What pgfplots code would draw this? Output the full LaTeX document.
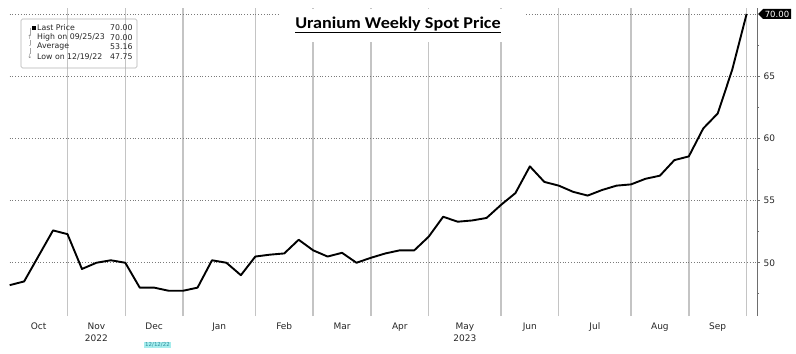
\documentclass[border=0pt]{standalone}
\usepackage{pgfplots}
\usepackage{pgfplotstable}
\pgfplotsset{compat=1.18}
\usepackage{fontspec}
\setmainfont{DejaVu Sans}
\newfontfamily\titlefont{Carlito}
\definecolor{vgrid}{HTML}{C4C4C4}
\definecolor{hgrid}{HTML}{7A7A7A}
\definecolor{axgray}{HTML}{6E6E6E}
\definecolor{datebg}{HTML}{A6EDED}
\definecolor{datefg}{HTML}{2C8C9C}

\pgfplotstableread{
i v
0 48.2
1 48.5
2 50.55
3 52.6
4 52.3
5 49.5
6 50.0
7 50.2
8 50.0
9 48.0
10 48.0
11 47.75
12 47.75
13 48.0
14 50.2
15 50.0
16 49.0
17 50.5
18 50.65
19 50.75
20 51.85
21 51.0
22 50.5
23 50.8
24 50.0
25 50.4
26 50.75
27 51.0
28 51.0
29 52.1
30 53.7
31 53.3
32 53.4
33 53.6
34 54.65
35 55.6
36 57.75
37 56.5
38 56.2
39 55.7
40 55.4
41 55.85
42 56.2
43 56.3
44 56.75
45 57.0
46 58.25
47 58.55
48 60.8
49 62.0
50 65.5
51 70.0
}\spot

\begin{document}
\begin{tikzpicture}[x=1bp,y=1bp]
\path[use as bounding box] (0,-37) rectangle (796,316);
\begin{axis}[
 at={(0,0)}, anchor=south west, scale only axis,
 width=757bp, height=308bp,
 xmin=-0.671, xmax=51.72, ymin=45.72, ymax=70.48,
 axis x line*=bottom, axis y line*=right,
 x axis line style={draw=none},
 y axis line style={draw=axgray, line width=0.9bp, -},
 xtick={2,6,10,14.5,19,23,27,31.5,36,40.5,45,49},
 xticklabels={Oct,Nov\\2022,Dec,Jan,Feb,Mar,Apr,May\\2023,Jun,Jul,Aug,Sep},
 xticklabel style={align=center, font=\fontsize{9bp}{12bp}\selectfont, text=black!85},
 x tick style={draw=none},
 major grid style={draw=vgrid, line width=1.4bp},
 extra x ticks={4,8,12,17,21,25,29,34,38,43,47,51},
 extra x tick labels={},
 extra x tick style={grid=major, tick style={draw=none}},
 ytick={50,55,60,65},
 yticklabels={50,55,60,65},
 minor ytick={47.5,52.5,57.5,62.5,67.5},
 tick align=outside,
 major tick length=3bp, minor tick length=2bp,
 y tick style={draw=axgray, line width=0.8bp},
 yticklabel style={font=\fontsize{9bp}{10bp}\selectfont, text=black!85},
 clip=false,
]
\pgfplotsinvokeforeach{50,55,60,65,70}{
  \draw[hgrid, dotted, line width=0.8bp] (axis cs:0,#1) -- (axis cs:51.72,#1);
}
\addplot[black, line width=1.9bp, line join=round] table[x=i,y=v]{\spot};
\end{axis}
% last price tag
\fill[black] (758,302) -- (763,307) -- (791,307) -- (791,297) -- (763,297) -- cycle;
\node[text=white, font=\fontsize{8.5bp}{9bp}\selectfont, inner sep=0] at (777,302) {70.00};
% title
\fill[white] (280,274) rectangle (525,307);
\node[font=\titlefont\bfseries\fontsize{16.5bp}{18bp}\selectfont, xscale=1.1, inner sep=0] at (398,291) {\underline{Uranium Weekly Spot Price}};
% legend
\draw[gray!60, line width=0.6bp, rounded corners=1.5bp] (21,297) rectangle (137,248);
\draw[gray!70, line width=0.5bp] (30,288.3) -- (30,259.3);
\fill[black] (32,286.3) rectangle (36,290.3);
\begin{scope}[font=\fontsize{7.8bp}{8bp}\selectfont, text=black!85]
\node[anchor=west, inner sep=0] at (37,288.3) {Last Price};
\node[anchor=west, inner sep=0] at (37,278.7) {High on 09/25/23};
\node[anchor=west, inner sep=0] at (37,269.3) {Average};
\node[anchor=west, inner sep=0] at (37,259.3) {Low on 12/19/22};
\node[anchor=west, inner sep=0] at (110,288.3) {70.00};
\node[anchor=west, inner sep=0] at (110,278.7) {70.00};
\node[anchor=west, inner sep=0] at (110,269.3) {53.16};
\node[anchor=west, inner sep=0] at (110,259.3) {47.75};
\end{scope}
\begin{scope}[font=\fontsize{6bp}{6bp}\selectfont, text=gray]
\node[fill=white, inner sep=0.3bp] at (30,278.7) {↑};
\node[fill=white, inner sep=0.3bp] at (30,269.3) {-};
\node[fill=white, inner sep=0.3bp] at (30,259.3) {↓};
\end{scope}
% date flag
\node[fill=datebg, text=datefg, font=\fontsize{5.5bp}{6bp}\selectfont, inner sep=0.8bp] at (157.5,-29) {12/12/22};
\end{tikzpicture}
\end{document}
